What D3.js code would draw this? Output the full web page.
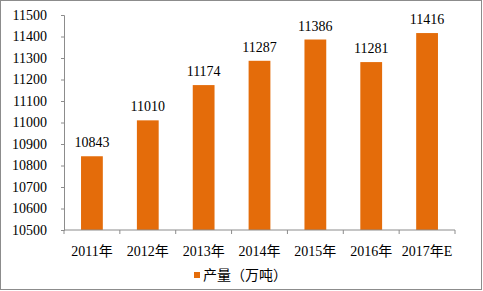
<!DOCTYPE html>
<html>
<head>
<meta charset="utf-8">
<script src="https://cdn.jsdelivr.net/npm/d3@7"></script>
<style>
  html, body { margin: 0; padding: 0; background: #fff; }
  svg text { font-family: "Liberation Serif", "Noto Sans CJK SC", serif; }
</style>
</head>
<body>
<div id="chart"></div>
<script>
const categories = ['2011年', '2012年', '2013年', '2014年', '2015年', '2016年', '2017年E'];
const values = [10843, 11010, 11174, 11287, 11386, 11281, 11416];
const yTicks = [10500, 10600, 10700, 10800, 10900, 11000, 11100, 11200, 11300, 11400, 11500];
const seriesName = '产量（万吨）';

const width = 483, height = 291;
const svg = d3.select('#chart').append('svg')
  .attr('width', width)
  .attr('height', height);

// outer frame
svg.append('rect')
  .attr('x', 0.5).attr('y', 0.5)
  .attr('width', width - 2).attr('height', height - 2)
  .attr('fill', '#fff')
  .attr('stroke', '#8c8c8c');

const x = d3.scaleBand()
  .domain(categories)
  .range([64, 455])
  .paddingInner(0.61)
  .paddingOuter(0.305);

const y = d3.scaleLinear()
  .domain([10500, 11500])
  .range([230, 15]);

const axisColor = '#8c8c8c';

// y axis
const yAxis = svg.append('g')
  .attr('transform', 'translate(64,0)')
  .call(d3.axisLeft(y).tickValues(yTicks).tickSize(3).tickPadding(14).tickFormat(d3.format('d')));
yAxis.select('.domain').attr('stroke', axisColor);
yAxis.selectAll('.tick line').attr('stroke', axisColor);
yAxis.selectAll('text').style('font-size', '14px').attr('fill', '#000');

// bars
svg.append('g').selectAll('rect')
  .data(values)
  .enter()
  .append('rect')
  .attr('x', (d, i) => x(categories[i]))
  .attr('y', d => y(d))
  .attr('width', x.bandwidth())
  .attr('height', d => y(10500) - y(d))
  .attr('fill', '#E46C0A');

// value labels
svg.append('g').selectAll('text')
  .data(values)
  .enter()
  .append('text')
  .attr('x', (d, i) => x(categories[i]) + x.bandwidth() / 2)
  .attr('y', d => y(d) - 9)
  .attr('text-anchor', 'middle')
  .style('font-size', '14px')
  .text(d => d);

// x axis with ticks between categories
const xAxisG = svg.append('g').attr('transform', 'translate(0,230)');
xAxisG.append('line').attr('x1', 64).attr('x2', 455).attr('stroke', axisColor);
const step = x.step();
d3.range(categories.length + 1).forEach(i => {
  xAxisG.append('line')
    .attr('x1', 64 + i * step).attr('x2', 64 + i * step)
    .attr('y1', 0).attr('y2', 4)
    .attr('stroke', axisColor);
});
xAxisG.selectAll('text.cat')
  .data(categories)
  .enter()
  .append('text')
  .attr('class', 'cat')
  .attr('x', d => x(d) + x.bandwidth() / 2)
  .attr('y', 26)
  .attr('text-anchor', 'middle')
  .style('font-size', '14px')
  .text(d => d);

// legend
const legend = svg.append('g').attr('transform', 'translate(194,272)');
legend.append('rect').attr('width', 6).attr('height', 6).attr('fill', '#E46C0A');
legend.append('text').attr('x', 9).attr('y', 8).style('font-size', '14px').text(seriesName);
</script>
</body>
</html>
